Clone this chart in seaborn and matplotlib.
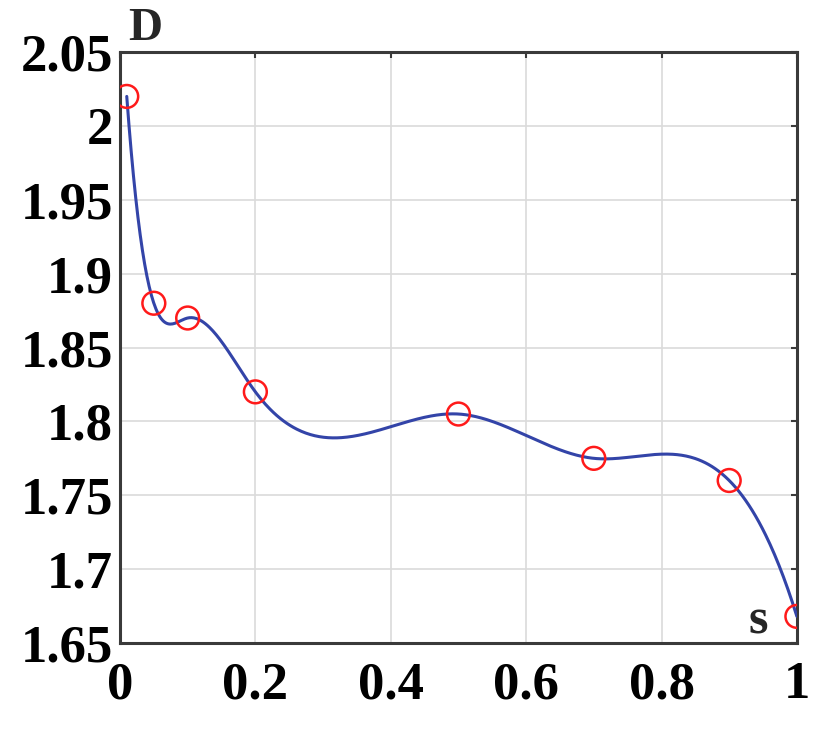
import numpy as np
import pandas as pd
import matplotlib
matplotlib.use("Agg")
import matplotlib.pyplot as plt
import seaborn as sns

# data
s_points = [0.01, 0.05, 0.10, 0.20, 0.50, 0.70, 0.90, 1.00]
d_points = [2.020, 1.880, 1.870, 1.820, 1.805, 1.775, 1.760, 1.668]
x_ticks = [0, 0.2, 0.4, 0.6, 0.8, 1]
x_tick_labels = ["0", "0.2", "0.4", "0.6", "0.8", "1"]
y_ticks = [1.65, 1.7, 1.75, 1.8, 1.85, 1.9, 1.95, 2.0, 2.05]
y_tick_labels = ["1.65", "1.7", "1.75", "1.8", "1.85", "1.9", "1.95", "2", "2.05"]


def cubic_spline(x, y, xs):
    """Not-a-knot cubic spline (MATLAB 'spline' style)."""
    x = np.asarray(x, float)
    y = np.asarray(y, float)
    n = len(x)
    h = np.diff(x)
    A = np.zeros((n, n))
    b = np.zeros(n)
    for i in range(1, n - 1):
        A[i, i - 1] = h[i - 1]
        A[i, i] = 2 * (h[i - 1] + h[i])
        A[i, i + 1] = h[i]
        b[i] = 6 * ((y[i + 1] - y[i]) / h[i] - (y[i] - y[i - 1]) / h[i - 1])
    A[0, 0] = h[1]
    A[0, 1] = -(h[0] + h[1])
    A[0, 2] = h[0]
    A[-1, -3] = h[-1]
    A[-1, -2] = -(h[-2] + h[-1])
    A[-1, -1] = h[-2]
    M = np.linalg.solve(A, b)
    idx = np.clip(np.searchsorted(x, xs) - 1, 0, n - 2)
    x0, x1 = x[idx], x[idx + 1]
    hh = x1 - x0
    t0 = x1 - xs
    t1 = xs - x0
    return (M[idx] * t0 ** 3 / (6 * hh) + M[idx + 1] * t1 ** 3 / (6 * hh)
            + (y[idx] / hh - M[idx] * hh / 6) * t0
            + (y[idx + 1] / hh - M[idx + 1] * hh / 6) * t1)


xs = np.linspace(s_points[0], s_points[-1], 600)
curve = pd.DataFrame({"s": xs, "D": cubic_spline(s_points, d_points, xs)})
pts = pd.DataFrame({"s": s_points, "D": d_points})

sns.set_style("white")
plt.rcParams["font.family"] = ["Liberation Serif", "DejaVu Serif"]
plt.rcParams["font.weight"] = "bold"

fig = plt.figure(figsize=(8.19, 7.34), dpi=100)
ax = fig.add_axes([0.1465, 0.124, 0.8265, 0.805])

sns.lineplot(data=curve, x="s", y="D", ax=ax, color="#3344a8", linewidth=2.2,
             zorder=3)
sns.scatterplot(data=pts, x="s", y="D", ax=ax, marker="o", s=270,
                facecolors="none", edgecolor="#ff1a1a", linewidth=1.8,
                zorder=4)

ax.set_xlim(0, 1)
ax.set_ylim(1.65, 2.05)
ax.set_xticks(x_ticks)
ax.set_xticklabels(x_tick_labels)
ax.set_yticks(y_ticks)
ax.set_yticklabels(y_tick_labels)
ax.grid(True, color="#dadada", linewidth=1.2)
ax.set_axisbelow(True)
for sp in ax.spines.values():
    sp.set_color("#3a3a3a")
    sp.set_linewidth(2.2)
ax.tick_params(axis="both", direction="in", length=4, width=1.5,
               colors="#3a3a3a", labelcolor="black", labelsize=38,
               top=True, right=True)
ax.tick_params(axis="x", pad=13)
ax.tick_params(axis="y", pad=5)
for lab in ax.get_xticklabels() + ax.get_yticklabels():
    lab.set_fontweight("bold")
ax.set_xlabel("")
ax.set_ylabel("")

ax.text(0.012, 1.003, "D", transform=ax.transAxes, fontsize=34,
        fontweight="bold", ha="left", va="bottom")
ax.text(0.958, -0.002, "s", transform=ax.transAxes, fontsize=36,
        fontweight="bold", ha="right", va="bottom")

fig.savefig("out.png", dpi=100)
